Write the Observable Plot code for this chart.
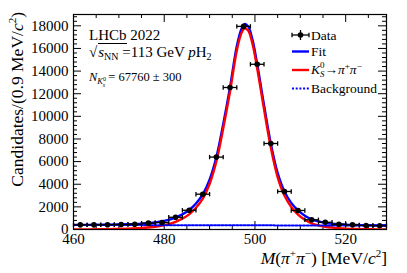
<!DOCTYPE html>
<html><head><meta charset="utf-8">
<script src="https://cdn.jsdelivr.net/npm/d3@7"></script>
<script src="https://cdn.jsdelivr.net/npm/@observablehq/plot@0.6"></script>
<style>body{margin:0;background:#fff;}</style>
</head><body><div id="chart"></div>
<script>
// ---- data ----
const binCenters = [461.5,464.5,467.5,470.5,473.5,476.5,479.5,482.5,485.5,488.5,491.5,494.5,497.5,500.5,503.5,506.5,509.5,512.5,515.5,518.5,521.5,524.5,527.5];
const counts     = [410,410,420,440,470,560,620,1080,1700,3120,6400,12550,17950,14600,7600,3360,1680,860,640,460,410,360,330];
const countErrors= [20,20,20,21,22,24,25,33,41,56,80,112,134,121,87,58,41,29,25,21,20,19,18];
const binHalfWidth = 1.5;

const fitX = [460,463,466,469,472,475,477,479,481,482.5,484,485.5,487,488.5,490,491.5,493,494.5,496,497,497.7,498.5,499.5,500.5,502,503.5,505,506.5,508,509.5,511,512.5,514,515.5,517,518.5,520,522,524.5,527,529];
const fitY = [410,412,420,440,470,520,580,690,850,1060,1340,1720,2300,3100,4400,6400,9300,12550,16200,17700,18150,17950,16700,14600,11000,7600,5000,3360,2350,1680,1220,900,720,600,520,470,430,400,375,360,350];
const sigY = [10,15,25,47,80,132,194,305,467,678,959,1340,1922,2723,4024,6025,8926,12178,15829,17330,17780,17581,16332,14232,10634,7235,4636,2997,1988,1320,861,542,363,244,166,117,78,50,27,14,5];
const bkgX = [460,529];
const bkgY = [400,345];

const xTicksMajor = [460,480,500,520];
const xTicksMinor = [465,470,475,485,490,495,505,510,515,525];
const yTicksMajor = [0,2000,4000,6000,8000,10000,12000,14000,16000,18000];
const yTicksMinor = d3.range(400,19000,400).filter(v => v % 2000 !== 0);

const legendLabels = ["Data","Fit","K_S^0→π⁺π⁻","Background"];

// ---- layout ----
const W=407,H=273,mL=73,mR=21,mT=14,mB=44;
const fw=W-mL-mR, fh=H-mT-mB;
const serif = "'Liberation Serif','Times New Roman',Times,serif";
const blue="#0000ff", red="#ff0000";

const pts = binCenters.map((x,i)=>({x, y:counts[i], e:countErrors[i]}));
const fit = fitX.map((x,i)=>({x, y:fitY[i]}));
const sig = fitX.map((x,i)=>({x, y:sigY[i]}));
const bkg = bkgX.map((x,i)=>({x, y:bkgY[i]}));

const capSymbol = {draw(ctx, size){ const h=Math.sqrt(size/Math.PI); ctx.moveTo(0,-h); ctx.lineTo(0,h);} };

const chart = Plot.plot({
  width:W, height:H, marginLeft:mL, marginRight:mR, marginTop:mT, marginBottom:mB,
  style:{fontFamily:serif, fontSize:"15px", color:"black", background:"white", overflow:"visible"},
  x:{domain:[460,529], ticks:xTicksMajor, tickSize:0, tickPadding:4, label:null, tickFormat:d=>String(d)},
  y:{domain:[0,19000], ticks:yTicksMajor, tickSize:0, tickPadding:5, label:null, tickFormat:d=>String(d)},
  marks:[
    // ticks inside the frame on all four sides
    Plot.tickX(xTicksMajor,{x:d=>d, insetTop:fh-8, stroke:"black"}),
    Plot.tickX(xTicksMinor,{x:d=>d, insetTop:fh-4, stroke:"black"}),
    Plot.tickX(xTicksMajor,{x:d=>d, insetBottom:fh-8, stroke:"black"}),
    Plot.tickX(xTicksMinor,{x:d=>d, insetBottom:fh-4, stroke:"black"}),
    Plot.tickY(yTicksMajor,{y:d=>d, insetRight:fw-8, stroke:"black"}),
    Plot.tickY(yTicksMinor,{y:d=>d, insetRight:fw-4, stroke:"black"}),
    Plot.tickY(yTicksMajor,{y:d=>d, insetLeft:fw-8, stroke:"black"}),
    Plot.tickY(yTicksMinor,{y:d=>d, insetLeft:fw-4, stroke:"black"}),
    // curves
    Plot.line(fit,{x:"x", y:"y", stroke:blue, strokeWidth:2.4, curve:"catmull-rom", clip:true}),
    Plot.line(sig,{x:"x", y:"y", stroke:red, strokeWidth:2.4, curve:"catmull-rom", clip:true}),
    Plot.line(bkg,{x:"x", y:"y", stroke:blue, strokeWidth:2, strokeDasharray:"2,1.7", clip:true}),
    // data with error bars
    Plot.link(pts,{x1:d=>d.x-binHalfWidth, x2:d=>d.x+binHalfWidth, y1:"y", y2:"y", stroke:"black", strokeWidth:1.3}),
    Plot.link(pts,{x1:"x", x2:"x", y1:d=>d.y-d.e, y2:d=>d.y+d.e, stroke:"black", strokeWidth:1.3}),
    Plot.dot(pts,{x:d=>d.x-binHalfWidth, y:"y", symbol:capSymbol, r:2.2, stroke:"black", fill:"none", strokeWidth:1.3}),
    Plot.dot(pts,{x:d=>d.x+binHalfWidth, y:"y", symbol:capSymbol, r:2.2, stroke:"black", fill:"none", strokeWidth:1.3}),
    Plot.dot(pts,{x:"x", y:"y", r:2.8, fill:"black", stroke:"none"}),
    Plot.frame({stroke:"black", strokeWidth:1.2})
  ]
});
document.getElementById("chart").appendChild(chart);

// ---- titles, legend and annotations ----
const svg = d3.select(chart);
const g = svg.append("g").attr("font-family", serif).attr("fill","black").attr("text-anchor","start");

// y title
const yt = g.append("text").attr("transform","translate(23,12) rotate(-90)")
  .attr("text-anchor","end").attr("font-size",17.5);
yt.append("tspan").text("Candidates/(0.9 MeV/");
yt.append("tspan").attr("font-style","italic").text("c");
yt.append("tspan").attr("font-size",11).attr("dy",-7).text("2");
yt.append("tspan").attr("dy",7).text(")");

// x title
const xt = g.append("text").attr("x",387).attr("y",264).attr("text-anchor","end").attr("font-size",17.5);
xt.append("tspan").attr("font-style","italic").text("M");
xt.append("tspan").text("(");
xt.append("tspan").attr("font-style","italic").text("π");
xt.append("tspan").attr("font-size",11).attr("dy",-7).text("+");
xt.append("tspan").attr("font-style","italic").attr("dy",7).text("π");
xt.append("tspan").attr("font-size",11).attr("dy",-7).text("−");
xt.append("tspan").attr("dy",7).text(") [MeV/");
xt.append("tspan").attr("font-style","italic").text("c");
xt.append("tspan").attr("font-size",11).attr("dy",-7).text("2");
xt.append("tspan").attr("dy",7).text("]");

// annotations top-left
g.append("text").attr("x",89).attr("y",39.5).attr("font-size",15).text("LHCb 2022");
const s2 = g.append("text").attr("x",89).attr("y",57).attr("font-size",15);
s2.append("tspan").text("√");
s2.append("tspan").attr("font-style","italic").attr("dx",1).text("s");
s2.append("tspan").attr("font-size",10).attr("dy",3).text("NN");
s2.append("tspan").attr("dy",-3).text(" =113 GeV ");
s2.append("tspan").attr("font-style","italic").text("p");
s2.append("tspan").text("H");
s2.append("tspan").attr("font-size",10).attr("dy",3).text("2");
g.append("line").attr("x1",98).attr("x2",127).attr("y1",43.5).attr("y2",43.5).attr("stroke","black").attr("stroke-width",1);

const nt = g.append("text").attr("x",89).attr("y",80.5).attr("font-size",12.5);
nt.append("tspan").attr("font-style","italic").text("N");
nt.append("tspan").attr("font-style","italic").attr("font-size",8.5).attr("dy",3).text("K");
nt.append("tspan").attr("font-size",6).attr("dy",-3).text("0");
nt.append("tspan").attr("font-style","italic").attr("font-size",6).attr("dx",-3.2).attr("dy",6).text("s");
nt.append("tspan").attr("dy",-6).text(" = 67760 ± 300");

// legend
const lx1=292, lx2=309, tx=311, fs=13.5;
const rows=[35,51.5,70,88.5];
const lg = g.append("g");
// Data
lg.append("line").attr("x1",lx1).attr("x2",lx2).attr("y1",rows[0]).attr("y2",rows[0]).attr("stroke","black").attr("stroke-width",1.3);
lg.append("line").attr("x1",300.5).attr("x2",300.5).attr("y1",rows[0]-5).attr("y2",rows[0]+5).attr("stroke","black").attr("stroke-width",1.3);
lg.append("line").attr("x1",lx1).attr("x2",lx1).attr("y1",rows[0]-2.2).attr("y2",rows[0]+2.2).attr("stroke","black").attr("stroke-width",1.3);
lg.append("line").attr("x1",lx2).attr("x2",lx2).attr("y1",rows[0]-2.2).attr("y2",rows[0]+2.2).attr("stroke","black").attr("stroke-width",1.3);
lg.append("circle").attr("cx",300.5).attr("cy",rows[0]).attr("r",2.8).attr("fill","black");
lg.append("text").attr("x",tx).attr("y",rows[0]+5).attr("font-size",fs).text(legendLabels[0]);
// Fit
lg.append("line").attr("x1",lx1).attr("x2",lx2).attr("y1",rows[1]).attr("y2",rows[1]).attr("stroke",blue).attr("stroke-width",2.4);
lg.append("text").attr("x",tx).attr("y",rows[1]+4.5).attr("font-size",fs).text(legendLabels[1]);
// Signal
lg.append("line").attr("x1",lx1).attr("x2",lx2).attr("y1",rows[2]).attr("y2",rows[2]).attr("stroke",red).attr("stroke-width",2.4);
const kt = lg.append("text").attr("x",tx).attr("y",rows[2]+3.5).attr("font-size",fs);
kt.append("tspan").attr("font-style","italic").text("K");
kt.append("tspan").attr("font-size",9).attr("dy",-6).text("0");
kt.append("tspan").attr("font-style","italic").attr("font-size",9).attr("dx",-4.5).attr("dy",9).text("S");
kt.append("tspan").attr("dy",-3).text("→");
kt.append("tspan").attr("font-style","italic").text("π");
kt.append("tspan").attr("font-size",9).attr("dy",-5).text("+");
kt.append("tspan").attr("font-style","italic").attr("dy",5).text("π");
kt.append("tspan").attr("font-size",9).attr("dy",-5).text("−");
// Background
lg.append("line").attr("x1",lx1).attr("x2",lx2).attr("y1",rows[3]).attr("y2",rows[3]).attr("stroke",blue).attr("stroke-width",2).attr("stroke-dasharray","2,1.7");
lg.append("text").attr("x",tx).attr("y",rows[3]+4.5).attr("font-size",fs).text(legendLabels[3]);
</script></body></html>
